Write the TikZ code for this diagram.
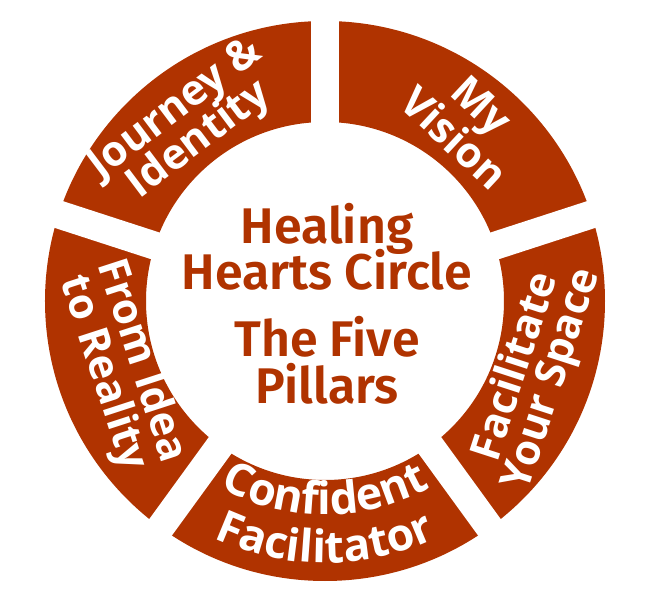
\documentclass[tikz,border=0pt]{standalone}
\usepackage{fontspec}
\usepackage{xcolor}
\usepackage{tikz}
\usetikzlibrary{calc,decorations.text}

\newfontfamily\ringfont{Open Sans}
\newfontfamily\hubfont{Fira Sans SemiBold}
\definecolor{pillarred}{RGB}{176,51,0}

\begin{document}
\begin{tikzpicture}[
        ringtext/.style={text=white, font=\ringfont\bfseries\fontsize{24}{24}\selectfont, anchor=base, inner sep=0pt},
        hubtext/.style={text=pillarred, font=\hubfont\fontsize{28.5}{30}\selectfont, anchor=base, inner sep=0pt}
    ]
        \useasboundingbox (-6.5,-5.96) rectangle (6.4,6.02);

        % Ring
        \fill[pillarred, even odd rule] (0,0) circle (5.6) (0,0) circle (3.58);

        % Gaps between the pillars
        \foreach \a in {18,90,162,234,306}
            \draw[white, line width=0.56cm] (0,0) -- (\a:5.9);

        % Pillars
        \node[ringtext, rotate=37] (journey) at (128:4.64) {Journey \&};
        \node[ringtext, rotate=37] (identity) at (128:3.86) {Identity};

        \node[ringtext, rotate=-43] (my) at (51.5:4.72) {My};
        \node[ringtext, rotate=-43] (vision) at (52:3.86) {Vision};

        \node[ringtext, rotate=72] (facilitate) at (-19:4.28) {Facilitate};
        \node[ringtext, rotate=72] (yourspace) at (-19:5.04) {Your Space};

        \node[ringtext, rotate=-72] (fromidea) at (-162:4.10) {From Idea};
        \node[ringtext, rotate=-72] (toreality) at (-162:4.90) {to Reality};

        \path[decorate, decoration={text along path, text align=center, text color=white,
            text={|\ringfont\bfseries\fontsize{25.5}{26}\selectfont|Confident}}]
            (-135:4.28) arc[start angle=-135, end angle=-45, radius=4.28];
        \path[decorate, decoration={text along path, text align=center, text color=white,
            text={|\ringfont\bfseries\fontsize{25.5}{26}\selectfont|Facilitator}}]
            (-135:5.24) arc[start angle=-135, end angle=-45, radius=5.24];

        % Centre title
        \node[hubtext] (healing) at (0.04,1.154) {Healing};
        \node[hubtext] (hearts) at (0.04,0.22) {Hearts Circle};
        \node[hubtext] (five) at (0.04,-1.114) {The Five};
        \node[hubtext] (pillars) at (0.04,-2.046) {Pillars};
\end{tikzpicture}
\end{document}
